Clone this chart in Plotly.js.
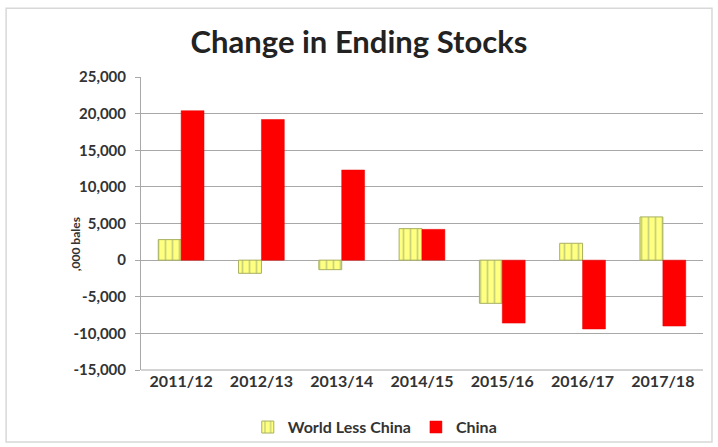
<!DOCTYPE html>
<html><head><meta charset="utf-8">
<script src="https://cdn.plot.ly/plotly-3.0.1.min.js"></script>
<style>html,body{margin:0;padding:0;background:#fff}#chart{width:718px;height:447px}</style>
</head><body><div id="chart"></div>
<script>
const seasons = ["2011/12","2012/13","2013/14","2014/15","2015/16","2016/17","2017/18"];
const worldLessChina = [2800, -1800, -1300, 4300, -5900, 2300, 5900];
const china = [20400, 19200, 12300, 4200, -8600, -9400, -9000];
const yTickVals = [-15000,-10000,-5000,0,5000,10000,15000,20000,25000];
const yTickText = ["-15,000","-10,000","-5,000","0","5,000","10,000","15,000","20,000","25,000"];

const data = [
  {type:"bar", name:"World Less China", x:seasons, y:worldLessChina,
   marker:{color:"#ffff80", line:{color:"#a8b060", width:1},
     pattern:{shape:"|", fgcolor:"#c9d27a", bgcolor:"#ffff80", size:7, solidity:0.25}}},
  {type:"bar", name:"China", x:seasons, y:china,
   marker:{color:"#ff0000", line:{color:"#e00000", width:0.5}}}
];
const font = "Lato, 'Open Sans', sans-serif";
const layout = {
  width:718, height:447,
  margin:{l:141, r:15, t:77, b:77, autoexpand:false},
  paper_bgcolor:"#fff", plot_bgcolor:"#fff",
  title:{text:"<b>Change in Ending Stocks</b>", x:0.5, xanchor:"center", y:0.905, yanchor:"middle",
         font:{family:font, size:31, color:"#222"}},
  barmode:"group", bargap:0.43, bargroupgap:0,
  xaxis:{showgrid:false, showline:false, ticks:"", zeroline:false,
         tickfont:{family:font, size:16, color:"#333", weight:"bold"}},
  yaxis:{range:[-15000,25000], tickvals:yTickVals, ticktext:yTickText,
         showgrid:true, gridcolor:"#a8a8a8", gridwidth:1,
         zeroline:true, zerolinecolor:"#a8a8a8", zerolinewidth:1,
         showline:true, linecolor:"#a8a8a8", ticks:"outside", ticklen:5, tickcolor:"#a8a8a8",
         ticklabelstandoff:6,
         tickfont:{family:font, size:15, color:"#333", weight:"bold"}},
  annotations:[
    {text:"<b>,000 bales</b>", xref:"paper", yref:"paper", x:-0.117, y:0.43,
     xanchor:"center", yanchor:"middle", textangle:-90, showarrow:false,
     font:{family:font, size:12, color:"#333"}}
  ],
  legend:{orientation:"h", x:0.416, xanchor:"center", y:-0.195, yanchor:"middle",
          bgcolor:"rgba(0,0,0,0)",
          font:{family:font, size:16, color:"#333", weight:"bold"}, traceorder:"normal", itemwidth:30},
  shapes:[
    {type:"rect", xref:"paper", yref:"paper", x0:-0.240, x1:1.016, y0:-0.246, y1:1.235,
     line:{color:"#d8d8d8", width:1.5}, fillcolor:"rgba(0,0,0,0)", layer:"below"},
    {type:"line", xref:"paper", yref:"paper", x0:0, x1:1, y0:0, y1:0, line:{color:"#a8a8a8", width:1}}
  ],
  showlegend:true
};
Plotly.newPlot("chart", data, layout, {displayModeBar:false, staticPlot:true});
</script></body></html>
